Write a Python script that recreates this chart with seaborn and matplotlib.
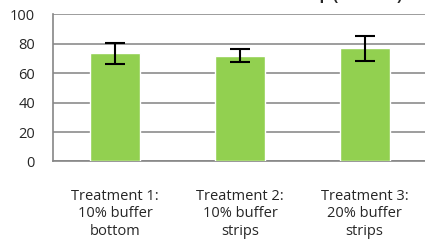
import matplotlib
matplotlib.use("Agg")
import matplotlib.pyplot as plt
import pandas as pd
import seaborn as sns

# Data
treatments = ["Treatment 1:\n10% buffer\nbottom",
              "Treatment 2:\n10% buffer\nstrips",
              "Treatment 3:\n20% buffer\nstrips"]
means = [73.5, 72.0, 77.0]
errors = [7.0, 4.2, 8.5]
y_ticks = [0, 20, 40, 60, 80, 100]

df = pd.DataFrame({"treatment": treatments, "value": means})

sns.set_style("white")
plt.rcParams["font.family"] = ["Open Sans", "DejaVu Sans"]

fig = plt.figure(figsize=(4.25, 2.43), dpi=100)
ax = fig.add_axes([0.1247, 0.3354, 0.88, 0.605])

sns.barplot(data=df, x="treatment", y="value", color="#92D050",
            width=0.4, saturation=1, errorbar=None, ax=ax, zorder=3)
ax.errorbar(range(len(means)), means, yerr=errors, fmt="none",
            ecolor="black", elinewidth=1.5, capsize=7, capthick=1.5, zorder=4)

ax.set_ylim(0, 100)
ax.set_xlim(-0.5, 2.5)
ax.set_yticks(y_ticks)
ax.set_xticks([-0.5, 0.5, 1.5], minor=False)
ax.set_xticklabels([])
ax.set_xticks([0, 1, 2], minor=True)
ax.set_xticklabels(treatments, minor=True, fontsize=10.5, linespacing=1.2)
ax.tick_params(axis="x", which="minor", length=0, pad=20)
ax.tick_params(axis="x", which="major", length=4, width=1, color="#868686")
ax.tick_params(axis="y", length=4, width=1, color="#868686", labelsize=10.5, pad=9)
ax.grid(axis="y", color="#8C8C8C", linewidth=1.2, zorder=0)
ax.set_axisbelow(True)
for side in ["top", "right"]:
    ax.spines[side].set_visible(False)
for side in ["left", "bottom"]:
    ax.spines[side].set_color("#868686")
    ax.spines[side].set_linewidth(1.2)
ax.set_xlabel("")
ax.set_ylabel("")

# title mostly cut off at the top edge, as in the reference
fig.text(0.945, 1.0, "Total Crop (bu/acre)", ha="right", va="baseline",
         fontsize=11, fontweight="bold")

fig.savefig("out.png", dpi=100)
